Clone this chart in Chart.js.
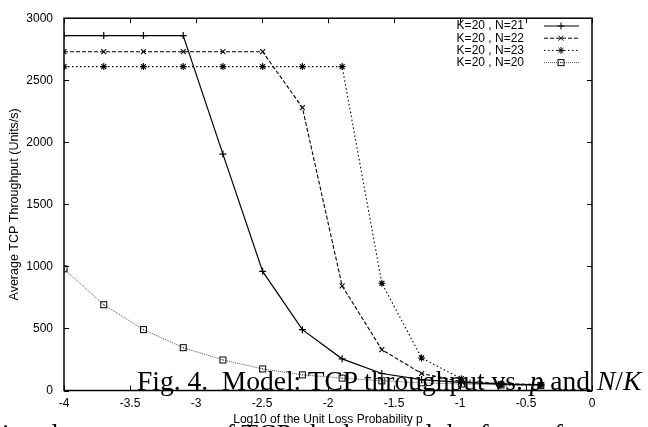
<!DOCTYPE html>
<html>
<head>
<meta charset="utf-8">
<script src="https://cdn.jsdelivr.net/npm/chart.js@4/dist/chart.umd.min.js"></script>
<style>
  body { margin: 0; background: #fff; overflow: hidden; }
  #wrap { position: relative; width: 648px; height: 427px; overflow: hidden; }
  .serif { position: absolute; font-family: 'Liberation Serif', 'DejaVu Serif', serif; font-size: 27.5px; line-height: 27px; white-space: nowrap; color: #000; }
  .serif i { font-style: italic; }
</style>
</head>
<body>
<div id="wrap">
  <canvas id="grafico" width="648" height="427"></canvas>
  <div class="serif" style="left:137px; top:367px;">Fig. 4.&nbsp; Model: TCP throughput vs. <i>p</i> and <i>N</i>/<i>K</i></div>
  <div class="serif" style="left:2px; top:420px;">ing the parameters of TCP, the loss and the form of</div>
</div>
<script>
// log10(p), p dobrando a cada ponto
const logP = [-4, -3.699, -3.398, -3.097, -2.796, -2.495, -2.194, -1.893, -1.592, -1.291, -0.990, -0.689, -0.388];

const n21 = [2860, 2860, 2860, 2860, 1905, 960, 490, 255, 137, 88, 65, 52, 46];
const n22 = [2730, 2730, 2730, 2730, 2730, 2730, 2280, 843, 329, 137, 72, 55, 48];
const n23 = [2610, 2610, 2610, 2610, 2610, 2610, 2610, 2610, 864, 262, 95, 46, 44];
const n20 = [981, 691, 491, 345, 246, 174, 126, 100, 78, 62, 52, 45, 40];

const seriesLabels = ['K=20 , N=21', 'K=20 , N=22', 'K=20 , N=23', 'K=20 , N=20'];
const xTicks = [-4, -3.5, -3, -2.5, -2, -1.5, -1, -0.5, 0];
const yTicks = [0, 500, 1000, 1500, 2000, 2500, 3000];

const FONT = "'Liberation Sans', Arial, sans-serif";

// quadrado com ponto no meio (estilo gnuplot)
const squareMark = document.createElement('canvas');
squareMark.width = 9; squareMark.height = 9;
(function () {
    const c = squareMark.getContext('2d');
    c.strokeStyle = '#000';
    c.lineWidth = 1;
    c.strokeRect(1.5, 1.5, 6, 6);
    c.fillStyle = '#000';
    c.fillRect(4, 4, 1, 1);
})();

function pts(vals) {
    return vals.map((v, i) => ({ x: logP[i], y: v }));
}

// moldura com ticks para dentro nos quatro lados
const frame = {
    id: 'frame',
    afterDraw(chart) {
        const { ctx, chartArea: a, scales } = chart;
        ctx.save();
        ctx.strokeStyle = '#000';
        ctx.lineWidth = 1.5;
        ctx.strokeRect(a.left, a.top, a.right - a.left, a.bottom - a.top);
        ctx.lineWidth = 1;
        ctx.beginPath();
        xTicks.forEach(t => {
            const x = Math.round(scales.x.getPixelForValue(t)) + 0.5;
            ctx.moveTo(x, a.bottom); ctx.lineTo(x, a.bottom - 5);
            ctx.moveTo(x, a.top); ctx.lineTo(x, a.top + 5);
        });
        yTicks.forEach(t => {
            const y = Math.round(scales.y.getPixelForValue(t)) + 0.5;
            ctx.moveTo(a.left, y); ctx.lineTo(a.left + 5, y);
            ctx.moveTo(a.right, y); ctx.lineTo(a.right - 5, y);
        });
        ctx.stroke();

        // legenda
        ctx.font = '12px ' + FONT;
        ctx.textAlign = 'right';
        ctx.textBaseline = 'middle';
        chart.data.datasets.forEach((ds, i) => {
            const y = 26 + i * 12.2;
            ctx.fillStyle = '#000';
            ctx.fillText(ds.label, 524, y);
            ctx.strokeStyle = ds.borderColor;
            ctx.lineWidth = 1;
            ctx.setLineDash(ds.borderDash || []);
            ctx.beginPath();
            ctx.moveTo(544, y); ctx.lineTo(579, y);
            ctx.stroke();
            ctx.setLineDash([]);
            Chart.helpers.drawPoint(ctx, {
                pointStyle: ds.pointStyle, radius: ds.pointRadius, borderWidth: 1
            }, 561, y);
        });
        ctx.restore();
    }
};

new Chart(document.getElementById('grafico'), {
    type: 'line',
    data: {
        datasets: [
            { label: seriesLabels[0], data: pts(n21), borderColor: '#000', borderWidth: 1.2, pointStyle: 'cross', pointRadius: 3.5, pointBorderColor: '#000' },
            { label: seriesLabels[1], data: pts(n22), borderColor: '#000', borderWidth: 1.1, borderDash: [4, 2], pointStyle: 'crossRot', pointRadius: 3.5, pointBorderColor: '#000' },
            { label: seriesLabels[2], data: pts(n23), borderColor: '#000', borderWidth: 1.1, borderDash: [1.5, 2.5], pointStyle: 'star', pointRadius: 3.5, pointBorderColor: '#000' },
            { label: seriesLabels[3], data: pts(n20), borderColor: '#555', borderWidth: 1, borderDash: [1, 1], pointStyle: squareMark, pointRadius: 4, pointBorderColor: '#000' }
        ]
    },
    plugins: [frame],
    options: {
        responsive: false,
        animation: false,
        layout: { padding: { top: 15, right: 56, left: 0, bottom: 0 } },
        elements: { point: { backgroundColor: 'transparent', borderWidth: 1 }, line: { tension: 0 } },
        scales: {
            x: {
                type: 'linear', min: -4, max: 0,
                afterFit: s => { s.height = 36.5; },
                afterBuildTicks: s => { s.ticks = xTicks.map(v => ({ value: v })); },
                grid: { display: false, drawTicks: false },
                border: { display: false },
                ticks: { color: '#000', padding: 6, font: { size: 12, family: FONT }, maxRotation: 0, callback: v => String(v) },
                title: { display: true, text: 'Log10 of the Unit Loss Probability p', color: '#000', font: { size: 12, family: FONT }, padding: 0 }
            },
            y: {
                min: 0, max: 3000,
                afterFit: s => { s.width = 64; },
                afterBuildTicks: s => { s.ticks = yTicks.map(v => ({ value: v })); },
                grid: { display: false, drawTicks: false },
                border: { display: false },
                ticks: { color: '#000', padding: 11, font: { size: 12, family: FONT }, callback: v => String(v) },
                title: { display: true, text: 'Average TCP Throughput (Units/s)', color: '#000', font: { size: 12.5, family: FONT }, padding: { top: 7, bottom: 0 } }
            }
        },
        plugins: {
            legend: { display: false },
            tooltip: { enabled: false }
        }
    }
});
</script>
</body>
</html>
